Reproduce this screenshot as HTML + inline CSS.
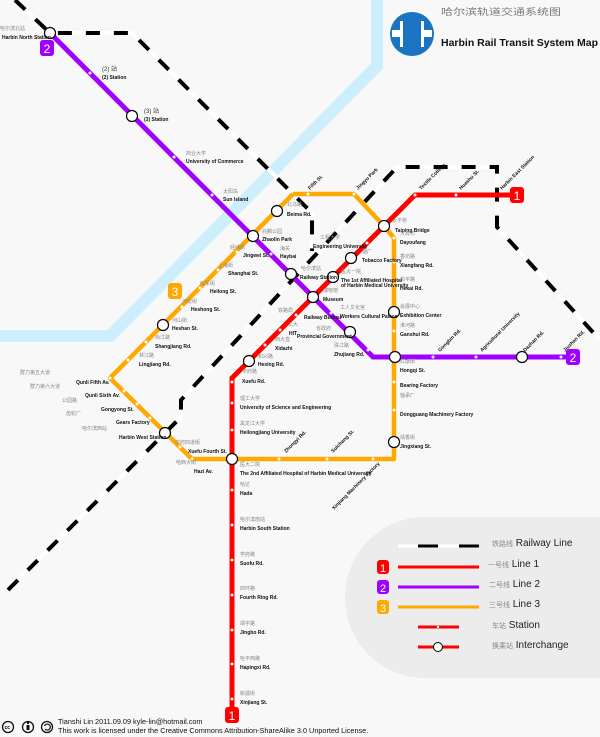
<!DOCTYPE html>
<html><head><meta charset="utf-8"><style>
html,body{margin:0;padding:0;background:#f8f8f8;}
svg{display:block;}
.en{font-family:"Liberation Sans",sans-serif;font-size:5px;font-weight:bold;fill:#111;}
.cn{font-family:"Liberation Sans","Noto Sans CJK SC",sans-serif;font-size:5px;fill:#888;}
.bd{font-family:"Liberation Sans",sans-serif;font-size:12px;fill:#fff;text-anchor:middle;}
.lg{font-family:"Liberation Sans","Noto Sans CJK SC",sans-serif;font-size:10px;fill:#222;}
</style></head><body>
<svg width="600" height="737" viewBox="0 0 600 737" xmlns="http://www.w3.org/2000/svg">
<rect width="600" height="737" fill="#f8f8f8"/>
<polyline points="377,0 377,66 110,336 0,336" fill="none" stroke="#cdeefc" stroke-width="12"/>
<g fill="none" stroke-width="4">
<polyline points="15,0 50,33 132,33 312,213 312,251" stroke="#fff"/>
<polyline points="15,0 50,33 132,33 312,213 312,251" stroke="#000" stroke-dasharray="14,14"/>
<polyline points="8,590 181,417 181,400 397,167 497,167 497,227 600,340" stroke="#fff"/>
<polyline points="8,590 181,417 181,400 397,167 497,167 497,227 600,340" stroke="#000" stroke-dasharray="14,14"/>
</g>
<polyline points="293,194 354,194 384,226 394,238 394,459 192,459 110,378 293,194" fill="none" stroke="#ffa800" stroke-width="4.5" stroke-linejoin="round"/>
<polyline points="517,195 415,195 232,378 232,715" fill="none" stroke="#f00" stroke-width="5"/>
<polyline points="50,33 373,357 573,357" fill="none" stroke="#a000ff" stroke-width="5"/>
<g fill="#fff">
<circle cx="90" cy="73" r="1.5"/><circle cx="174" cy="157" r="1.5"/><circle cx="212" cy="195" r="1.5"/><circle cx="271" cy="254" r="1.5"/><circle cx="331" cy="313" r="1.5"/><circle cx="368" cy="350" r="1.5"/><circle cx="433" cy="357" r="1.5"/><circle cx="476" cy="357" r="1.5"/><circle cx="561" cy="357" r="1.5"/>
<circle cx="415" cy="195" r="1.5"/><circle cx="456" cy="195" r="1.5"/><circle cx="367" cy="243" r="1.5"/><circle cx="296" cy="315" r="1.5"/><circle cx="280" cy="330" r="1.5"/><circle cx="265" cy="345" r="1.5"/><circle cx="232" cy="382" r="1.5"/><circle cx="232" cy="403" r="1.5"/><circle cx="232" cy="430" r="1.5"/>
<circle cx="232" cy="490" r="1.5"/><circle cx="232" cy="525" r="1.5"/><circle cx="232" cy="560" r="1.5"/><circle cx="232" cy="595" r="1.5"/><circle cx="232" cy="630" r="1.5"/><circle cx="232" cy="664" r="1.5"/><circle cx="232" cy="699" r="1.5"/>
<circle cx="308" cy="194" r="1.5"/><circle cx="354" cy="194" r="1.5"/><circle cx="394" cy="238" r="1.5"/><circle cx="394" cy="262" r="1.5"/><circle cx="394" cy="285" r="1.5"/><circle cx="394" cy="331" r="1.5"/><circle cx="394" cy="382" r="1.5"/><circle cx="394" cy="410" r="1.5"/>
<circle cx="373" cy="459" r="1.5"/><circle cx="327" cy="459" r="1.5"/><circle cx="279" cy="459" r="1.5"/><circle cx="192" cy="459" r="1.5"/><circle cx="180" cy="447" r="1.5"/><circle cx="150" cy="418" r="1.5"/><circle cx="137" cy="404" r="1.5"/><circle cx="124" cy="391" r="1.5"/><circle cx="110" cy="378" r="1.5"/>
<circle cx="128" cy="360" r="1.5"/><circle cx="146" cy="342" r="1.5"/><circle cx="182" cy="307" r="1.5"/><circle cx="200" cy="288" r="1.5"/><circle cx="218" cy="270" r="1.5"/><circle cx="237" cy="252" r="1.5"/>
</g>
<g fill="#fff" stroke="#000" stroke-width="1.2">
<circle cx="50" cy="33" r="5.5"/><circle cx="132" cy="116" r="5.5"/><circle cx="253" cy="236" r="5.5"/><circle cx="277" cy="211" r="5.5"/><circle cx="291" cy="274" r="5.5"/><circle cx="313" cy="297" r="5.5"/><circle cx="350" cy="332" r="5.5"/><circle cx="395" cy="357" r="5.5"/><circle cx="522" cy="357" r="5.5"/>
<circle cx="384" cy="226" r="5.5"/><circle cx="351" cy="258" r="5.5"/><circle cx="333" cy="277" r="5.5"/><circle cx="249" cy="361" r="5.5"/><circle cx="232" cy="459" r="5.5"/>
<circle cx="394" cy="312" r="5.5"/><circle cx="394" cy="442" r="5.5"/><circle cx="165" cy="433" r="5.5"/><circle cx="163" cy="325" r="5.5"/>
</g>
<rect x="40" y="40" width="14" height="16" rx="3" fill="#a000ff"/><text class="bd" x="47" y="53">2</text>
<rect x="566" y="349" width="14" height="16" rx="3" fill="#a000ff"/><text class="bd" x="573" y="362">2</text>
<rect x="510" y="187" width="14" height="16" rx="3" fill="#f00"/><text class="bd" x="517" y="200">1</text>
<rect x="225" y="707" width="14" height="16" rx="3" fill="#f00"/><text class="bd" x="232" y="720">1</text>
<rect x="168" y="283" width="14" height="16" rx="3" fill="#ffa800"/><text class="bd" x="175" y="296">3</text>
<g class="en">
<text x="2" y="39">Harbin North Station</text>
<text x="102" y="79">(2) Station</text><text x="144" y="121">(3) Station</text>
<text x="186" y="163">University of Commerce</text><text x="223" y="201">Sun Island</text>
<text x="262" y="241">Zhaolin Park</text><text x="287" y="216">Beima Rd.</text>
<text x="243" y="257">Jingwei St.</text><text x="280" y="258">Haybai</text>
<text x="228" y="275">Shanghai St.</text><text x="210" y="293">Heilong St.</text><text x="191" y="311">Heshong St.</text>
<text x="172" y="330">Heshan St.</text><text x="155" y="348">Shangjiang Rd.</text><text x="139" y="366">Lingjiang Rd.</text>
<text x="76" y="384">Qunli Fifth Av.</text><text x="85" y="397">Qunli Sixth Av.</text><text x="101" y="411">Gongyong St.</text>
<text x="116" y="424">Gears Factory</text><text x="119" y="439">Harbin West Station</text>
<text x="188" y="453">Xuefu Fourth St.</text><text x="194" y="473">Hazi Av.</text>
<text x="300" y="279">Railway Station</text><text x="323" y="301">Museum</text><text x="304" y="319">Railway Bureau</text>
<text x="289" y="335">HIT</text><text x="297" y="338">Provincial Government</text><text x="275" y="350">Xidazhi</text>
<text x="258" y="366">Hexing Rd.</text><text x="242" y="383">Xuefu Rd.</text>
<text x="240" y="409">University of Science and Engineering</text><text x="240" y="434">Heilongjiang University</text>
<text x="240" y="475">The 2nd Affiliated Hospital of Harbin Medical University</text>
<text x="240" y="495">Hada</text><text x="240" y="530">Harbin South Station</text><text x="240" y="565">Suofu Rd.</text>
<text x="240" y="599">Fourth Ring Rd.</text><text x="240" y="634">Jingbo Rd.</text><text x="240" y="669">Hapingxi Rd.</text><text x="240" y="704">Xinjiang St.</text>
<text x="340" y="318">Workers Cultural Palace</text><text x="334" y="356">Zhujiang Rd.</text>
<text x="313" y="248">Engineering University</text><text x="362" y="262">Tobacco Factory</text>
<text x="341" y="282">The 1st Affiliated Hospital</text><text x="341" y="287">of Harbin Medical University</text>
<text x="395" y="232">Taiping Bridge</text><text x="400" y="244">Dayoufang</text><text x="400" y="267">Xiangfang Rd.</text>
<text x="400" y="290">Hekai Rd.</text><text x="400" y="317">Exhibition Center</text><text x="400" y="336">Ganshui Rd.</text>
<text x="400" y="372">Hongqi St.</text><text x="400" y="387">Bearing Factory</text><text x="400" y="416">Dongguang Machinery Factory</text><text x="400" y="448">Jingxiang St.</text>
<text transform="translate(310,190) rotate(-45)">Fifth St.</text><text transform="translate(358,190) rotate(-45)">Jingyu Park</text>
<text transform="translate(421,190) rotate(-45)">Textile College</text><text transform="translate(461,190) rotate(-45)">Huashu St.</text>
<text transform="translate(502,190) rotate(-45)">Harbin East Station</text>
<text transform="translate(440,352) rotate(-45)">Gongbin Rd.</text><text transform="translate(482,352) rotate(-45)">Agricultural University</text>
<text transform="translate(525,352) rotate(-45)">Dazhan Rd.</text><text transform="translate(565,352) rotate(-45)">Jiuzhan Rd.</text>
<text transform="translate(286,453) rotate(-45)">Zhongyi Rd.</text><text transform="translate(333,453) rotate(-45)">Suichang St.</text>
<text transform="translate(334,510) rotate(-45)">Xinjiang Machinery Factory</text>
</g>
<g class="cn">
<text x="0" y="30">哈尔滨北站</text><text x="102" y="71" style="font-size:6px;fill:#333">(2) 站</text><text x="144" y="113" style="font-size:6px;fill:#333">(3) 站</text>
<text x="186" y="155">商业大学</text><text x="223" y="193">太阳岛</text><text x="262" y="233">兆麟公园</text><text x="287" y="206">北马路</text>
<text x="230" y="249">经纬街</text><text x="280" y="250">海关</text><text x="218" y="267">上海街</text><text x="200" y="285">红军街</text>
<text x="182" y="303">河松街</text><text x="172" y="322">河山街</text><text x="155" y="339">尚江路</text><text x="139" y="357">林江路</text>
<text x="20" y="374">群力第五大道</text><text x="30" y="388">群力第六大道</text><text x="62" y="402">公园路</text><text x="66" y="415">齿轮厂</text>
<text x="82" y="430">哈尔滨西站</text><text x="175" y="444">学府四道街</text><text x="176" y="464">哈西大街</text>
<text x="301" y="270">哈尔滨站</text><text x="323" y="292">博物馆</text><text x="278" y="312">铁路局</text><text x="288" y="326">工大</text>
<text x="316" y="330">省政府</text><text x="275" y="341">西大直</text><text x="258" y="358">和兴路</text><text x="242" y="373">学府路</text>
<text x="240" y="400">理工大学</text><text x="240" y="425">黑龙江大学</text><text x="240" y="466">医大二院</text>
<text x="240" y="486">哈达</text><text x="240" y="521">哈尔滨南站</text><text x="240" y="556">学府路</text><text x="240" y="590">四环路</text>
<text x="240" y="625">靖宇路</text><text x="240" y="660">哈平西路</text><text x="240" y="695">新疆街</text>
<text x="340" y="309">工人文化宫</text><text x="334" y="347">珠江路</text><text x="320" y="239">工程大学</text><text x="362" y="253">烟厂</text>
<text x="341" y="273">医大一院</text><text x="392" y="222">太平桥</text><text x="400" y="235">大有坊</text><text x="400" y="258">香坊路</text>
<text x="400" y="281">和平路</text><text x="400" y="308">会展中心</text><text x="400" y="327">淮河路</text><text x="400" y="363">红旗街</text>
<text x="400" y="397">轴承厂</text><text x="400" y="439">靖香街</text>
</g>
<path d="M425,517 H600 V678 H425 A80,80 0 0 1 345,598 A80,80 0 0 1 425,517 Z" fill="#ececec"/>
<line x1="398" y1="546" x2="479" y2="546" stroke="#fff" stroke-width="3"/>
<line x1="418" y1="546" x2="479" y2="546" stroke="#000" stroke-width="3" stroke-dasharray="20,21"/>
<line x1="398" y1="567" x2="479" y2="567" stroke="#f00" stroke-width="3"/>
<line x1="398" y1="587" x2="479" y2="587" stroke="#a000ff" stroke-width="3"/>
<line x1="398" y1="607" x2="479" y2="607" stroke="#ffa800" stroke-width="3"/>
<line x1="418" y1="627" x2="459" y2="627" stroke="#f00" stroke-width="3"/><circle cx="438" cy="627" r="1.2" fill="#fff"/>
<line x1="418" y1="647" x2="459" y2="647" stroke="#f00" stroke-width="3"/><circle cx="438" cy="647" r="4.5" fill="#fff" stroke="#000" stroke-width="1"/>
<rect x="377" y="560" width="12" height="14" rx="3" fill="#f00"/><text class="bd" x="383" y="572" style="font-size:11px">1</text>
<rect x="377" y="580" width="12" height="14" rx="3" fill="#a000ff"/><text class="bd" x="383" y="592" style="font-size:11px">2</text>
<rect x="377" y="600" width="12" height="14" rx="3" fill="#ffa800"/><text class="bd" x="383" y="612" style="font-size:11px">3</text>
<text class="lg" x="492" y="546"><tspan style="font-size:7px;fill:#888">铁路线</tspan> Railway Line</text>
<text class="lg" x="488" y="567"><tspan style="font-size:7px;fill:#888">一号线</tspan> Line 1</text>
<text class="lg" x="489" y="587"><tspan style="font-size:7px;fill:#888">二号线</tspan> Line 2</text>
<text class="lg" x="489" y="607"><tspan style="font-size:7px;fill:#888">三号线</tspan> Line 3</text>
<text class="lg" x="492" y="628"><tspan style="font-size:7px;fill:#888">车站</tspan> Station</text>
<text class="lg" x="492" y="648"><tspan style="font-size:7px;fill:#888">换乘站</tspan> Interchange</text>
<circle cx="412" cy="34" r="22" fill="#1a74c2"/>
<rect x="392" y="30" width="40" height="7" fill="#fff"/>
<rect x="403" y="30" width="18" height="7" fill="#1a74c2"/>
<rect x="400" y="21" width="3" height="26" fill="#fff"/>
<rect x="421" y="21" width="3" height="26" fill="#fff"/>
<text x="441" y="15" textLength="120" lengthAdjust="spacingAndGlyphs" style="font-family:'Liberation Sans','Noto Sans CJK SC',sans-serif;font-size:9px;fill:#777">哈尔滨轨道交通系统图</text>
<text x="441" y="46" textLength="157" lengthAdjust="spacingAndGlyphs" style="font-family:'Liberation Sans',sans-serif;font-size:10.5px;font-weight:bold;fill:#111">Harbin Rail Transit System Map</text>
<g fill="none" stroke="#111" stroke-width="1.3">
<circle cx="8" cy="727" r="5.5"/><circle cx="28" cy="727" r="5.5"/><circle cx="47" cy="727" r="5.5"/>
</g>
<text x="4.5" y="729" style="font-family:'Liberation Sans',sans-serif;font-size:5px;font-weight:bold">cc</text>
<rect x="26.5" y="725" width="3" height="5" fill="#111"/><circle cx="28" cy="723" r="1.2" fill="#111"/>
<path d="M44.5,726 A3,3 0 1 1 45,729" fill="none" stroke="#111" stroke-width="1.2"/>
<text x="58" y="724" style="font-family:'Liberation Sans',sans-serif;font-size:7.3px;fill:#111">Tianshi Lin 2011.09.09 kyle-lin@hotmail.com</text>
<text x="58" y="733" style="font-family:'Liberation Sans',sans-serif;font-size:7.3px;fill:#111">This work is licensed under the Creative Commons Attribution-ShareAlike 3.0 Unported License.</text>
</svg>
</body></html>
